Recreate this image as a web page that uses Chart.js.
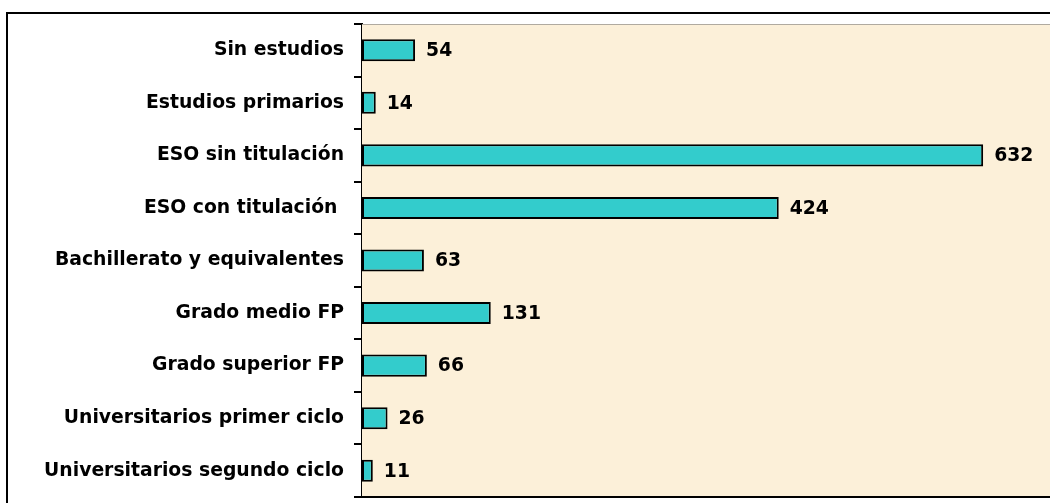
<!DOCTYPE html>
<html lang="es">
<head>
    <meta charset="UTF-8">
    <title>Nivel de estudios</title>
    <script src="https://cdn.jsdelivr.net/npm/chart.js"></script>
    <style>
        html, body { margin: 0; padding: 0; background: #fff; overflow: hidden; }
        .marco { position: absolute; left: 6px; top: 12px; width: 1100px; height: 600px; border: 2px solid #000; }
        #grafico { position: absolute; left: 0; top: 0; }
    </style>
</head>
<body>
    <div class="marco"></div>
    <canvas id="grafico" width="1050" height="503"></canvas>

    <script>
        // Datos
        const categorias = [
            'Sin estudios',
            'Estudios primarios',
            'ESO sin titulación',
            'ESO con titulación ',
            'Bachillerato y equivalentes',
            'Grado medio FP',
            'Grado superior FP',
            'Universitarios primer ciclo',
            'Universitarios segundo ciclo'
        ];
        const valores = [54, 14, 632, 424, 63, 131, 66, 26, 11];
        const maximoEje = 700;

        const fuente = { family: 'DejaVu Sans', size: 18.8, weight: 'bold' };

        // Fondo del área de trazado, línea inferior y etiquetas de valor
        const adornos = {
            id: 'adornos',
            beforeDatasetsDraw(chart) {
                const { ctx, chartArea: a } = chart;
                ctx.save();
                ctx.fillStyle = '#fcf0d9';
                ctx.fillRect(a.left, a.top, a.right - a.left, a.bottom - a.top);
                ctx.strokeStyle = '#b0aaa0';
                ctx.lineWidth = 1;
                ctx.beginPath();
                ctx.moveTo(a.left, a.top + 0.5);
                ctx.lineTo(a.right, a.top + 0.5);
                ctx.stroke();
                ctx.restore();
            },
            afterDatasetsDraw(chart) {
                const { ctx, chartArea: a } = chart;
                ctx.save();
                ctx.strokeStyle = '#000';
                ctx.lineWidth = 2;
                ctx.beginPath();
                ctx.moveTo(a.left - 1, a.bottom);
                ctx.lineTo(a.right, a.bottom);
                ctx.stroke();

                ctx.fillStyle = '#000';
                ctx.font = 'bold 18.8px "DejaVu Sans"';
                ctx.textBaseline = 'middle';
                ctx.textAlign = 'left';
                chart.getDatasetMeta(0).data.forEach((bar, i) => {
                    ctx.fillText(valores[i], bar.x + 11, bar.y + 1);
                });
                ctx.restore();
            }
        };

        new Chart(document.getElementById('grafico'), {
            type: 'bar',
            data: {
                labels: categorias,
                datasets: [{
                    data: valores,
                    backgroundColor: '#33cccc',
                    borderColor: '#000',
                    borderWidth: 2,
                    borderSkipped: false,
                    categoryPercentage: 1,
                    barPercentage: 0.42
                }]
            },
            options: {
                indexAxis: 'y',
                responsive: false,
                animation: false,
                layout: { padding: { top: 24, bottom: 6, left: 0, right: 0 } },
                plugins: {
                    legend: { display: false },
                    tooltip: { enabled: false }
                },
                scales: {
                    x: {
                        display: false,
                        min: 0,
                        max: maximoEje
                    },
                    y: {
                        afterFit(scale) {
                            scale.width = 362;
                            scale.paddingTop = 0;
                            scale.paddingBottom = 0;
                        },
                        border: { color: '#000', width: 2 },
                        grid: {
                            drawOnChartArea: false,
                            color: '#000',
                            lineWidth: 2,
                            tickLength: 8
                        },
                        ticks: {
                            color: '#000',
                            padding: 10,
                            font: fuente
                        }
                    }
                }
            },
            plugins: [adornos]
        });
    </script>
</body>
</html>
